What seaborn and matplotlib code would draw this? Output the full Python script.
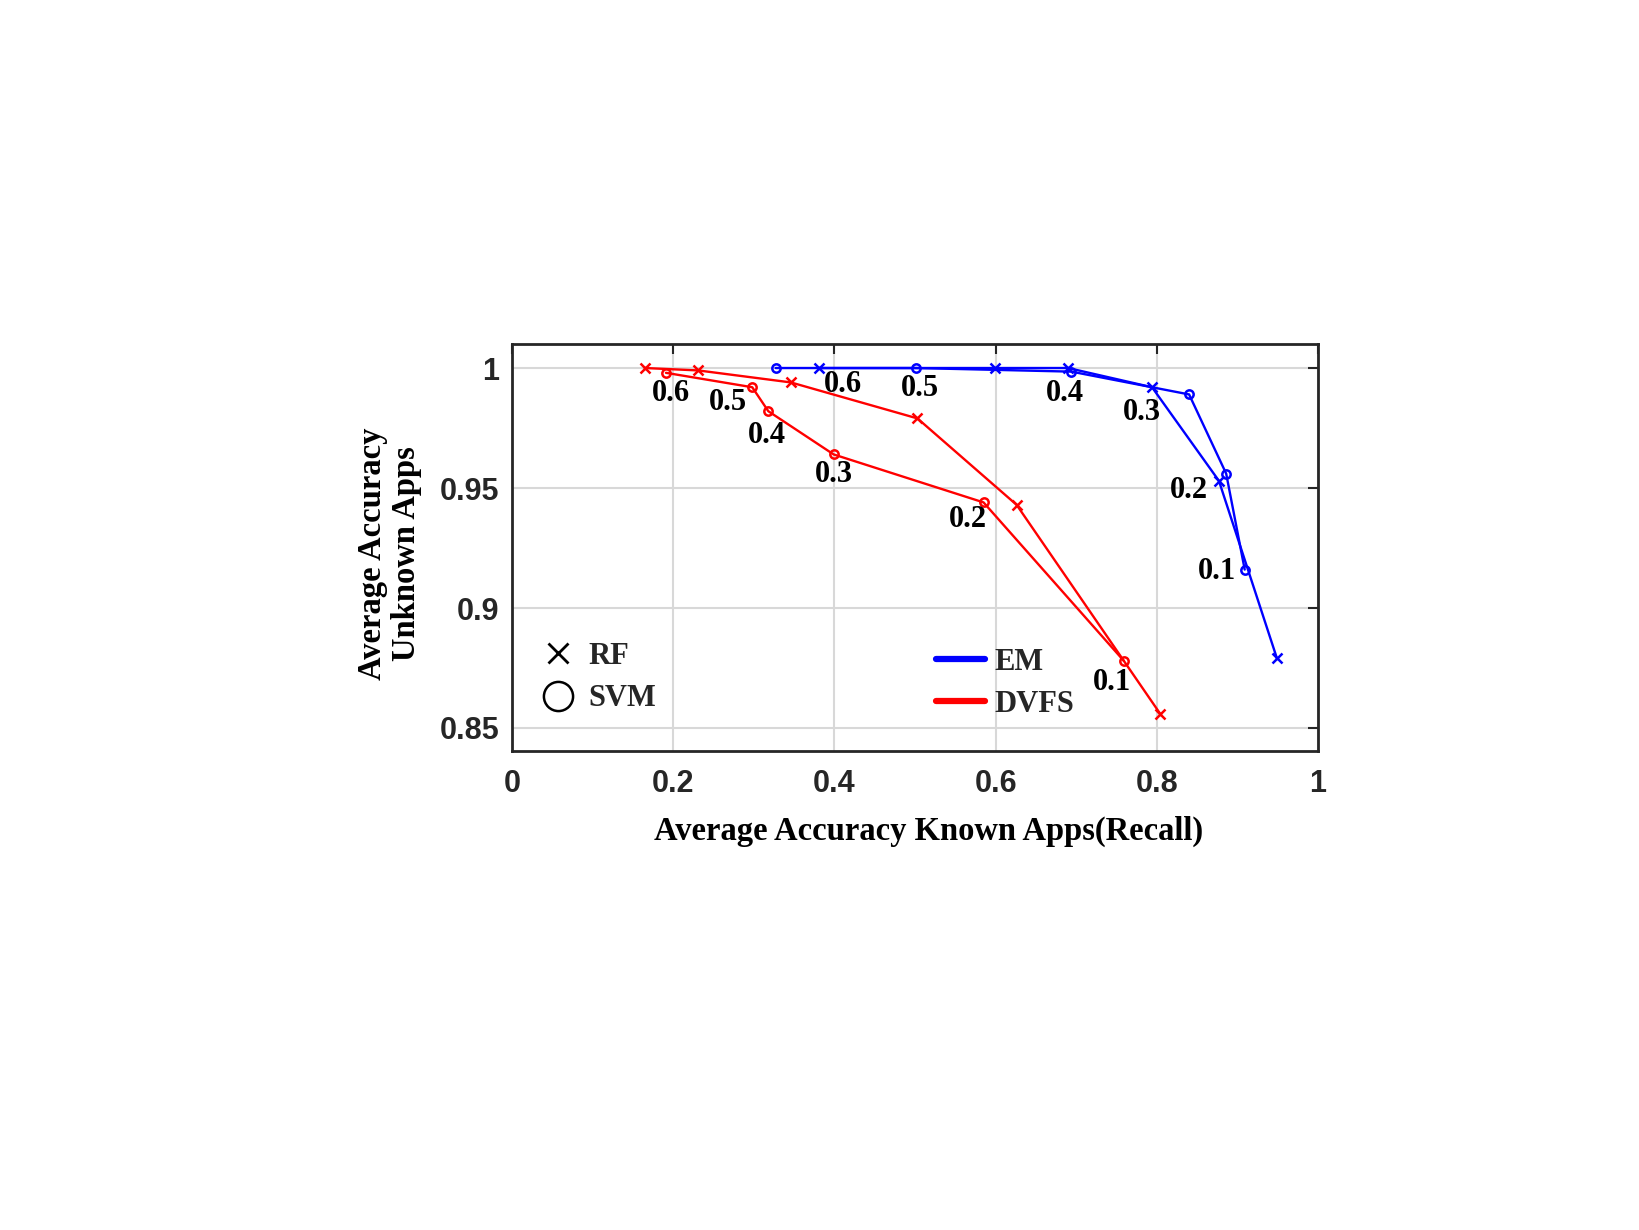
import matplotlib
matplotlib.use("Agg")
import matplotlib.pyplot as plt
from matplotlib.lines import Line2D
import seaborn as sns
import pandas as pd

# ---- data ----
thresholds = [0.6, 0.5, 0.4, 0.3, 0.2, 0.1]

em_rf_recall = [0.381, 0.599, 0.690, 0.794, 0.877, 0.949]
em_rf_unknown = [1.000, 1.000, 1.000, 0.992, 0.953, 0.879]

em_svm_recall = [0.327, 0.501, 0.694, 0.840, 0.886, 0.909]
em_svm_unknown = [1.000, 1.000, 0.9985, 0.989, 0.956, 0.916]

dvfs_rf_recall = [0.165, 0.231, 0.346, 0.503, 0.626, 0.804]
dvfs_rf_unknown = [1.000, 0.999, 0.994, 0.979, 0.943, 0.856]

dvfs_svm_recall = [0.191, 0.298, 0.318, 0.399, 0.585, 0.759]
dvfs_svm_unknown = [0.998, 0.992, 0.982, 0.964, 0.944, 0.878]

methods = ["EM", "DVFS"]
classifiers = ["RF", "SVM"]

# label positions (layout, data coords)
em_label_pos = [(0.411, 0.993), (0.506, 0.9915), (0.686, 0.9895),
                (0.781, 0.9815), (0.840, 0.949), (0.875, 0.9154)]
dvfs_label_pos = [(0.197, 0.9895), (0.268, 0.9855), (0.316, 0.972),
                  (0.399, 0.9555), (0.565, 0.937), (0.744, 0.869)]

rows = []
for m, c, xs, ys in [("EM", "RF", em_rf_recall, em_rf_unknown),
                     ("EM", "SVM", em_svm_recall, em_svm_unknown),
                     ("DVFS", "RF", dvfs_rf_recall, dvfs_rf_unknown),
                     ("DVFS", "SVM", dvfs_svm_recall, dvfs_svm_unknown)]:
    for t, x, y in zip(thresholds, xs, ys):
        rows.append({"method": m, "classifier": c, "threshold": t,
                     "recall": x, "unknown": y})
df = pd.DataFrame(rows)

sns.set_theme(style="white")
plt.rcParams["font.family"] = ["Liberation Sans", "DejaVu Sans"]

colors = {"EM": "#0000ff", "DVFS": "#ff0000"}
markers = {"RF": "x", "SVM": "o"}
msize = {"RF": 7, "SVM": 6}

fig = plt.figure(figsize=(16.4, 12.3), dpi=100)
ax = fig.add_axes([0.3122, 0.3894, 0.4915, 0.3309])

for m in methods:
    for c in classifiers:
        sub = df[(df.method == m) & (df.classifier == c)]
        sns.lineplot(data=sub, x="recall", y="unknown", ax=ax, sort=False,
                     estimator=None, color=colors[m], marker=markers[c],
                     markersize=msize[c], markeredgecolor=colors[m],
                     markerfacecolor="none", markeredgewidth=1.8,
                     linewidth=1.7, legend=False)

serif = ["Liberation Serif", "DejaVu Serif"]
for t, (x, y) in zip(thresholds, em_label_pos):
    ax.text(x, y, f"{t:.1f}", ha="center", va="center", fontsize=22,
            fontweight="bold", family=serif, color="black")
for t, (x, y) in zip(thresholds, dvfs_label_pos):
    ax.text(x, y, f"{t:.1f}", ha="center", va="center", fontsize=22,
            fontweight="bold", family=serif, color="black")

ax.set_xlim(0, 1)
ax.set_ylim(0.8404, 1.01)
ax.set_xticks([0, 0.2, 0.4, 0.6, 0.8, 1])
ax.set_xticklabels(["0", "0.2", "0.4", "0.6", "0.8", "1"])
ax.set_yticks([0.85, 0.9, 0.95, 1])
ax.set_yticklabels(["0.85", "0.9", "0.95", "1"])
ax.grid(True, color="#d8d8d8", linewidth=1.5)
ax.tick_params(axis="both", direction="in", length=7, width=1.5,
               colors="#262626", labelsize=22, top=True, right=True)
ax.tick_params(axis="x", pad=13)
ax.tick_params(axis="y", pad=9)
for lab in ax.get_xticklabels() + ax.get_yticklabels():
    lab.set_fontweight("bold")
for s in ax.spines.values():
    s.set_color("#262626")
    s.set_linewidth(2)

ax.set_xlabel("Average Accuracy Known Apps(Recall)", fontsize=23.5,
              fontweight="bold", family=serif, color="black", labelpad=10)
ax.xaxis.set_label_coords(0.517, -0.16)
ax.set_ylabel("Average Accuracy\nUnknown Apps", fontsize=23.5,
              fontweight="bold", family=serif, color="black", labelpad=14,
              linespacing=1.12)
ax.yaxis.set_label_coords(-0.112, 0.485)

# legend for classifiers (markers)
h1 = [Line2D([], [], color="black", marker="x", linestyle="None",
             markersize=15, markeredgewidth=2),
      Line2D([], [], color="black", marker="o", linestyle="None",
             markersize=21, markerfacecolor="none", markeredgewidth=1.8)]
leg1 = ax.legend(h1, classifiers, loc="lower left",
                 bbox_to_anchor=(-0.006, 0.025), frameon=False,
                 prop={"family": serif, "weight": "bold", "size": 22},
                 handletextpad=0.25, labelspacing=0.45, handlelength=1.5)
ax.add_artist(leg1)

h2 = [Line2D([], [], color=colors[m], linewidth=4.5) for m in methods]
ax.legend(h2, methods, loc="lower left", bbox_to_anchor=(0.492, 0.012),
          frameon=False, prop={"family": serif, "weight": "bold", "size": 22},
          handletextpad=0.3, labelspacing=0.42, handlelength=1.6)

fig.savefig("out.png", dpi=100)
